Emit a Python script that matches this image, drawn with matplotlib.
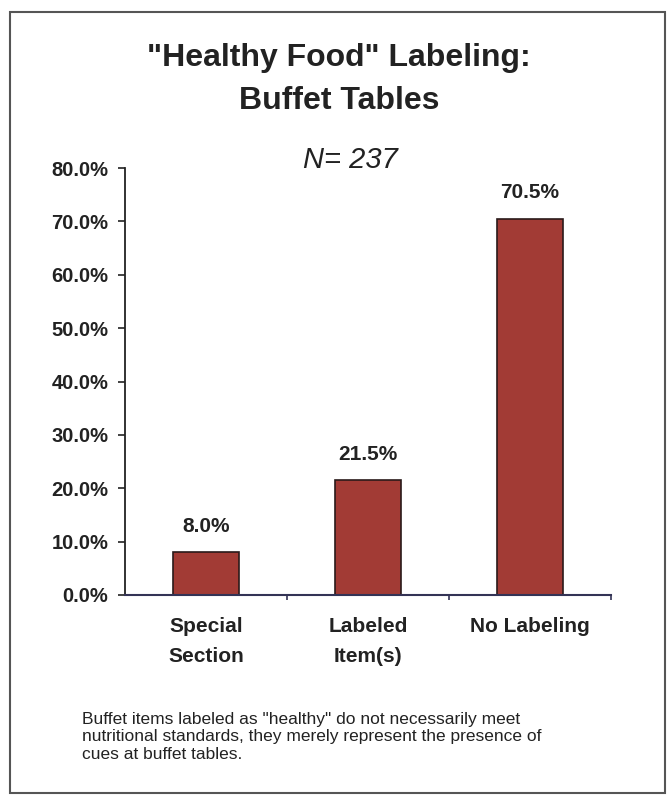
import matplotlib.pyplot as plt
from matplotlib.patches import Rectangle
from matplotlib.ticker import FuncFormatter, FixedLocator

categories = ['Special\nSection', 'Labeled\nItem(s)', 'No Labeling']
values = [8.0, 21.5, 70.5]
yticks = [0, 10, 20, 30, 40, 50, 60, 70, 80]
title = '"Healthy Food" Labeling:\nBuffet Tables'
note = ('Buffet items labeled as "healthy" do not necessarily meet\n'
        'nutritional standards, they merely represent the presence of\n'
        'cues at buffet tables.')

plt.rcParams['font.family'] = ['Liberation Sans', 'DejaVu Sans']

W, H = 671, 798
fig = plt.figure(figsize=(W / 100, H / 100), dpi=100, facecolor='white')

# outer frame
fig.patches.append(Rectangle((10 / W, 1 - 793 / H), 655 / W, 781 / H,
                             transform=fig.transFigure, fill=False,
                             edgecolor='#555555', linewidth=1.5))

ax = fig.add_axes([125 / W, 1 - 595 / H, 486 / W, 427 / H])
x = range(len(categories))
ax.bar(x, values, width=0.404, color='#A23B35', edgecolor='#2a1a1a', linewidth=1.2)
for xi, v in zip(x, values):
    ax.text(xi, v + 3.1, '%.1f%%' % v, ha='center', va='bottom',
            fontsize=15, fontweight='bold', color='#222222')

ax.set_xlim(-0.5, 2.5)
ax.set_ylim(0, 80)
ax.set_yticks(yticks)
ax.yaxis.set_major_formatter(FuncFormatter(lambda v, p: '%.1f%%' % v))
ax.tick_params(axis='y', direction='out', length=5, width=1.2, labelsize=14.5,
               colors='#222222', pad=7)
for lab in ax.get_yticklabels():
    lab.set_fontweight('bold')

ax.xaxis.set_major_locator(FixedLocator([0.5, 1.5, 2.5]))
ax.set_xticklabels([])
ax.tick_params(axis='x', direction='out', length=3.5, width=1.2, colors='#333355')
for xi, c in zip(x, categories):
    ax.text(xi, -4.2, c, ha='center', va='top', fontsize=15, fontweight='bold',
            color='#222222', linespacing=1.7)

for s in ['top', 'right']:
    ax.spines[s].set_visible(False)
ax.spines['left'].set_color('#222222')
ax.spines['left'].set_linewidth(1.3)
ax.spines['bottom'].set_color('#333355')
ax.spines['bottom'].set_linewidth(1.5)

fig.text(339 / W, 1 - 79.5 / H, title, ha='center', va='center', fontsize=23,
         fontweight='bold', color='#222222', linespacing=1.57)
fig.text(350 / W, 1 - 160 / H, 'N= 237', ha='center', va='center',
         fontsize=21, style='italic', color='#222222')
fig.text(82 / W, 1 - 737 / H, note, ha='left', va='center', fontsize=12.5,
         color='#222222', linespacing=1.2)

fig.savefig('out.png', dpi=100, facecolor='white')
